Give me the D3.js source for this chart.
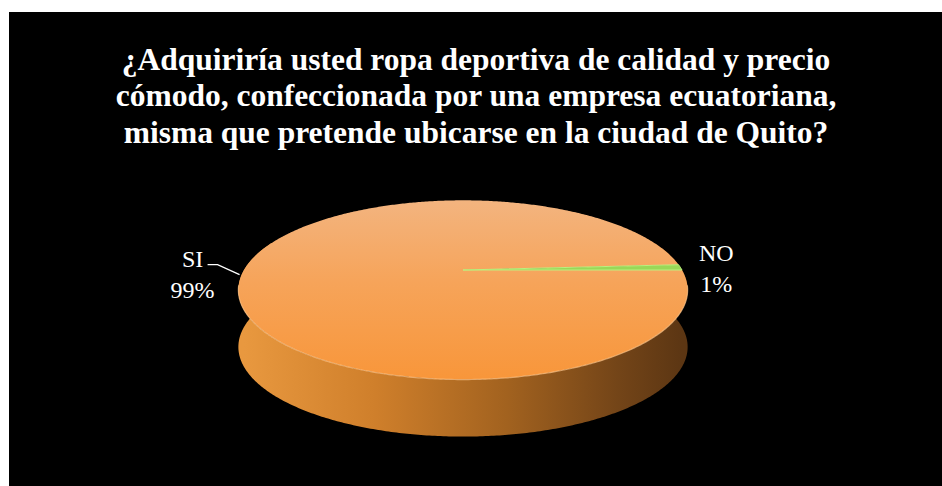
<!DOCTYPE html>
<html>
<head>
<meta charset="utf-8">
<script src="https://cdn.jsdelivr.net/npm/d3@7"></script>
<style>
  body { margin:0; background:#fff; }
</style>
</head>
<body>
<div id="pie_chart"></div>
<script>
var W = 942, H = 486;

// data
var categories = ["SI", "NO"];
var values = [99, 1];
var titleLines = [
  "¿Adquiriría usted ropa deportiva de calidad y precio",
  "cómodo, confeccionada por una empresa ecuatoriana,",
  "misma que pretende ubicarse en la ciudad de Quito?"
];

var svg = d3.select("#pie_chart").append("svg")
    .attr("width", W)
    .attr("height", H);

var defs = svg.append("defs");

// black chart area
svg.append("rect")
    .attr("x", 9).attr("y", 12)
    .attr("width", W - 9).attr("height", H - 12)
    .attr("fill", "#000");

// title
svg.append("g").selectAll("text")
    .data(titleLines)
    .enter().append("text")
    .attr("x", 476)
    .attr("y", function(d, i) { return 69.5 + i * 36.5; })
    .attr("text-anchor", "middle")
    .attr("font-family", "'Liberation Serif', 'Times New Roman', serif")
    .attr("font-weight", "bold")
    .attr("font-size", 31.5)
    .attr("fill", "#fff")
    .text(function(d) { return d; });

// 3d pie projection (perspective view of a tilted disc)
var cx = 463, cy = 270, R = 219,
    sA = 0.389, cA = 0.921, D = 4.14, thick = 57;

function proj(a, dy) {
  var X = Math.sin(a), Z = -Math.cos(a);
  var v = Z * sA,
      w = Z * cA,
      s = D / (D - w);
  return [cx + R * X * s, cy + R * v * s + dy];
}

function arcPts(a0, a1, dy) {
  var n = Math.max(2, Math.ceil(Math.abs(a1 - a0) / 0.01)), pts = [];
  for (var i = 0; i <= n; i++) pts.push(proj(a0 + (a1 - a0) * i / n, dy));
  return pts;
}

var line = d3.line();

var pie = d3.pie().sort(null)
    .startAngle(Math.PI / 2)
    .endAngle(Math.PI / 2 + 2 * Math.PI);
var arcs = pie(values);

var colors = d3.scaleOrdinal().domain(categories).range(["#f79a40", "#9ad858"]);

// gradients
var gSide = defs.append("linearGradient").attr("id", "side")
    .attr("gradientUnits", "userSpaceOnUse")
    .attr("x1", cx - R).attr("x2", cx + R).attr("y1", 0).attr("y2", 0);
[[0, "#e8983f"], [0.3, "#cf7f2b"], [0.6, "#a2621f"], [0.85, "#744518"], [1, "#5c3613"]]
  .forEach(function(s) { gSide.append("stop").attr("offset", s[0]).attr("stop-color", s[1]); });

var gTop = defs.append("linearGradient").attr("id", "top")
    .attr("gradientUnits", "userSpaceOnUse")
    .attr("x1", 0).attr("x2", 0).attr("y1", 200).attr("y2", 380);
[[0, "#f3b47f"], [0.45, "#f6a45a"], [1, "#f8963a"]]
  .forEach(function(s) { gTop.append("stop").attr("offset", s[0]).attr("stop-color", s[1]); });

var g_body = svg.append("g");

// side wall (front part)
var a0 = 70 * Math.PI / 180, a1 = 290 * Math.PI / 180;
var wall = arcPts(a0, a1, 0).concat(arcPts(a1, a0, thick));
g_body.append("path")
    .attr("d", line(wall) + "Z")
    .attr("fill", "url(#side)");

// top face slices
g_body.selectAll(".slice")
    .data(arcs)
    .enter().append("path")
    .attr("class", "slice")
    .attr("d", function(d) {
      return line([[cx, cy]].concat(arcPts(d.startAngle, d.endAngle, 0))) + "Z";
    })
    .attr("fill", function(d, i) { return i === 0 ? "url(#top)" : colors(categories[i]); })
    .attr("stroke", function(d, i) { return i === 0 ? "none" : "#bdf07f"; })
    .attr("stroke-width", 1);

// soft light rim on the front edge
g_body.append("path")
    .attr("d", line(arcPts(100 * Math.PI / 180, 260 * Math.PI / 180, 0)))
    .attr("fill", "none")
    .attr("stroke", "#ffc488")
    .attr("stroke-opacity", 0.7)
    .attr("stroke-width", 1.2);

// labels
var labels = svg.append("g")
    .attr("font-family", "'Liberation Serif', 'Times New Roman', serif")
    .attr("font-size", 24)
    .attr("fill", "#fff");

arcs.forEach(function(d, i) {
  var mid = (d.startAngle + d.endAngle) / 2,
      p = proj(mid, 0),
      left = Math.sin(mid) < 0,
      tx = left ? p[0] - 50 : p[0] + 36;
  if (left) {
    labels.append("path")
        .attr("d", line([[p[0] - 3, p[1] + 2], [p[0] - 25, p[1] - 8], [p[0] - 35, p[1] - 8]]))
        .attr("fill", "none")
        .attr("stroke", "#fff")
        .attr("stroke-width", 1.3);
  }
  labels.append("text")
      .attr("x", tx).attr("y", p[1] - 6)
      .attr("text-anchor", "middle")
      .text(categories[i]);
  labels.append("text")
      .attr("x", tx).attr("y", p[1] + 25)
      .attr("text-anchor", "middle")
      .text(Math.round(d.value / d3.sum(values) * 100) + "%");
});
</script>
</body>
</html>
